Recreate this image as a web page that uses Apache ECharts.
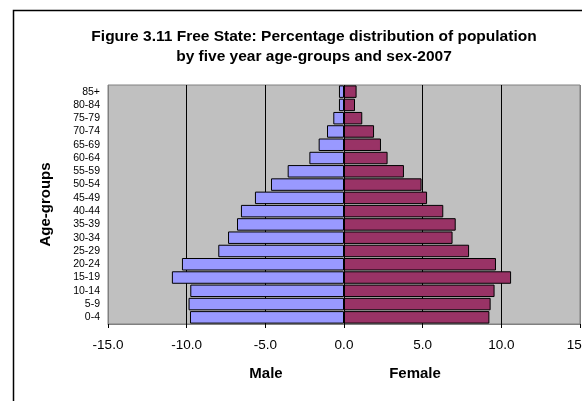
<!DOCTYPE html>
<html><head><meta charset="utf-8">
<script src="https://cdn.jsdelivr.net/npm/echarts@6/dist/echarts.min.js"></script>
<style>html,body{margin:0;padding:0;background:#fff;overflow:hidden}#c{width:582px;height:401px}</style>
</head><body><div id="c"></div>
<script>
const ageGroups = ['0-4','5-9','10-14','15-19','20-24','25-29','30-34','35-39','40-44','45-49','50-54','55-59','60-64','65-69','70-74','75-79','80-84','85+'];
const maleValues = [-9.79,-9.88,-9.77,-10.94,-10.30,-7.99,-7.37,-6.80,-6.55,-5.66,-4.64,-3.58,-2.20,-1.61,-1.08,-0.68,-0.32,-0.32];
const femaleValues = [9.24,9.32,9.57,10.62,9.66,7.95,6.90,7.10,6.31,5.28,4.93,3.81,2.77,2.35,1.91,1.16,0.70,0.80];
const titleLines = ['Figure 3.11 Free State: Percentage distribution of population','by five year age-groups and sex-2007'];
const axisTitles = ['Male','Female'];

const chart = echarts.init(document.getElementById('c'), null, {renderer:'canvas'});
const F = '"Liberation Sans", Arial, sans-serif';
chart.setOption({
  animation:false,
  backgroundColor:'#fff',
  title:{text:titleLines.join('\n'), left:309, textAlign:'center', top:22,
    textStyle:{fontFamily:F, fontSize:15.5, fontWeight:'bold', color:'#000', lineHeight:19.5}},
  grid:{left:108, top:85, width:472, height:239, show:true, backgroundColor:'#C0C0C0', borderColor:'#808080', borderWidth:1,
    containLabel:false, outerBoundsMode:'none'},
  xAxis:{type:'value', min:-15, max:15, interval:5,
    axisLine:{show:true, onZero:false, lineStyle:{color:'#808080'}},
    axisTick:{show:true, length:4, lineStyle:{color:'#000'}},
    axisLabel:{fontFamily:F, fontSize:13.5, color:'#000', margin:14, formatter:v=>v.toFixed(1)},
    splitLine:{show:true, lineStyle:{color:['#808080','#000','#000','#000','#000','#000','#808080'], width:1}}},
  yAxis:{type:'category', data:ageGroups,
    axisLine:{show:false}, axisTick:{show:false},
    axisLabel:{fontFamily:F, fontSize:10.5, color:'#000', margin:8, interval:0, hideOverlap:false},
    name:'Age-groups', nameLocation:'middle', nameGap:55, nameRotate:90,
    nameTextStyle:{fontFamily:F, fontSize:15, fontWeight:'bold', color:'#000'}},
  series:[
    {name:axisTitles[0], type:'bar', data:maleValues, stack:'a', barCategoryGap:'6%',
      itemStyle:{color:'#9999FF', borderColor:'#000', borderWidth:1}},
    {name:axisTitles[1], type:'bar', data:femaleValues, stack:'a', barCategoryGap:'6%',
      itemStyle:{color:'#993366', borderColor:'#000', borderWidth:1}}
  ],
  graphic:[
    {type:'rect', shape:{x:13.5, y:10.5, width:700, height:500}, style:{fill:'none', stroke:'#000', lineWidth:1.5}, silent:true},
    {type:'text', x:266, y:374, style:{text:axisTitles[0], font:'bold 15px '+F, fill:'#000', textAlign:'center', textVerticalAlign:'middle'}},
    {type:'text', x:415, y:374, style:{text:axisTitles[1], font:'bold 15px '+F, fill:'#000', textAlign:'center', textVerticalAlign:'middle'}}
  ]
});
</script></body></html>
